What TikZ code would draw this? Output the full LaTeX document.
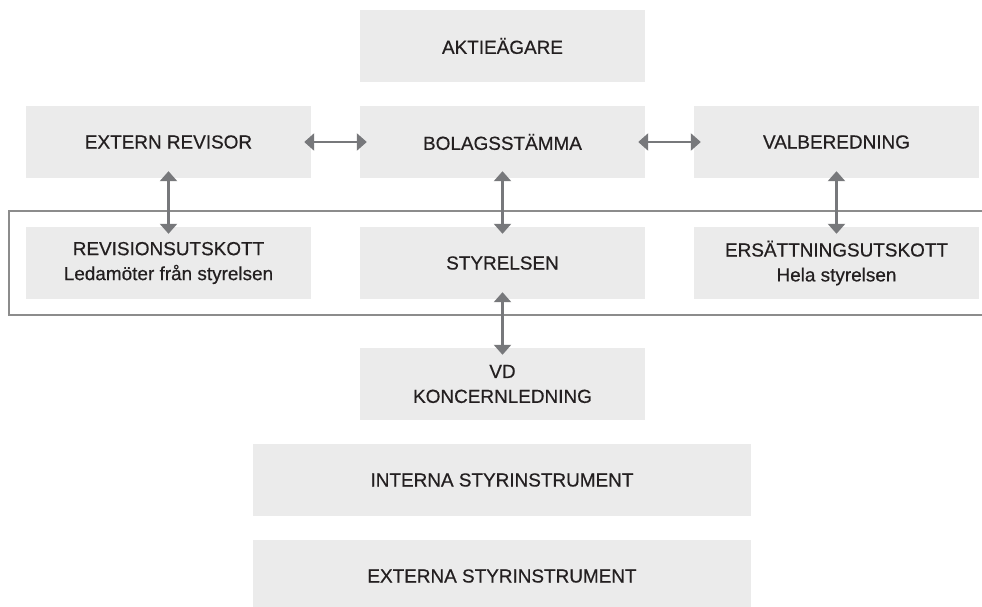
\documentclass[tikz,border=0pt]{standalone}
\usepackage{fontspec}
\setmainfont{Liberation Sans}
\usepackage{tikz}
\usetikzlibrary{arrows.meta,positioning}
\definecolor{boxgray}{HTML}{EBEBEB}
\definecolor{arrowgray}{HTML}{77787B}
\definecolor{framegray}{HTML}{8C8C8C}
\definecolor{textdark}{HTML}{231F20}
\tikzset{box/.style={fill=boxgray,draw=none,minimum width=285bp,minimum height=72bp,
    inner sep=0pt,align=center,text=textdark,
    font=\fontsize{19}{25}\selectfont\addfontfeature{FakeBold=0.5}},
  wide/.style={box,minimum width=498bp},
  link/.style={{Triangle[width=17bp,length=10bp]}-{Triangle[width=17bp,length=10bp]},
    draw=arrowgray,line width=2.8bp,shorten <=-7bp,shorten >=-7bp}}

\begin{document}
\begin{tikzpicture}[x=1bp,y=-1bp]%
\useasboundingbox (0,0) rectangle (982,607);
\begin{scope}%
\tikzstyle{every node}=[box] %%
\node (akt) at (502.5,46)  {AKTIEÄGARE}; %%
\node (ext) at (168.5,142)  {EXTERN REVISOR}; %%
\node (bolag) at (502.5,142)  {BOLAGSSTÄMMA}; %%
\node (val) at (836.5,142)  {VALBEREDNING}; %%
\node (rev) at (168.5,263)  {REVISIONSUTSKOTT\\Ledamöter från styrelsen}; %%
\node (styr) at (502.5,263)  {STYRELSEN}; %%
\node (ers) at (836.5,263)  {ERSÄTTNINGSUTSKOTT\\Hela styrelsen}; %%
\node (vd) at (502.5,384)  {VD\\KONCERNLEDNING}; %%
\node[wide] (int) at (502,480)  {INTERNA STYRINSTRUMENT}; %%
\node[wide] (extin) at (502,576)  {EXTERNA STYRINSTRUMENT}; %%
\end{scope}
% open frame round the board row
\draw[framegray,line width=1.2bp] (995,211) -| (9,315) -- (995,315);
\draw[link] (ext)--(bolag); %%
\draw[link] (bolag)--(val); %%
\draw[link] (ext)--(rev); %%
\draw[link] (bolag)--(styr); %%
\draw[link] (val)--(ers); %%
\draw[link] (styr)--(vd); %%
\end{tikzpicture}
\end{document}
